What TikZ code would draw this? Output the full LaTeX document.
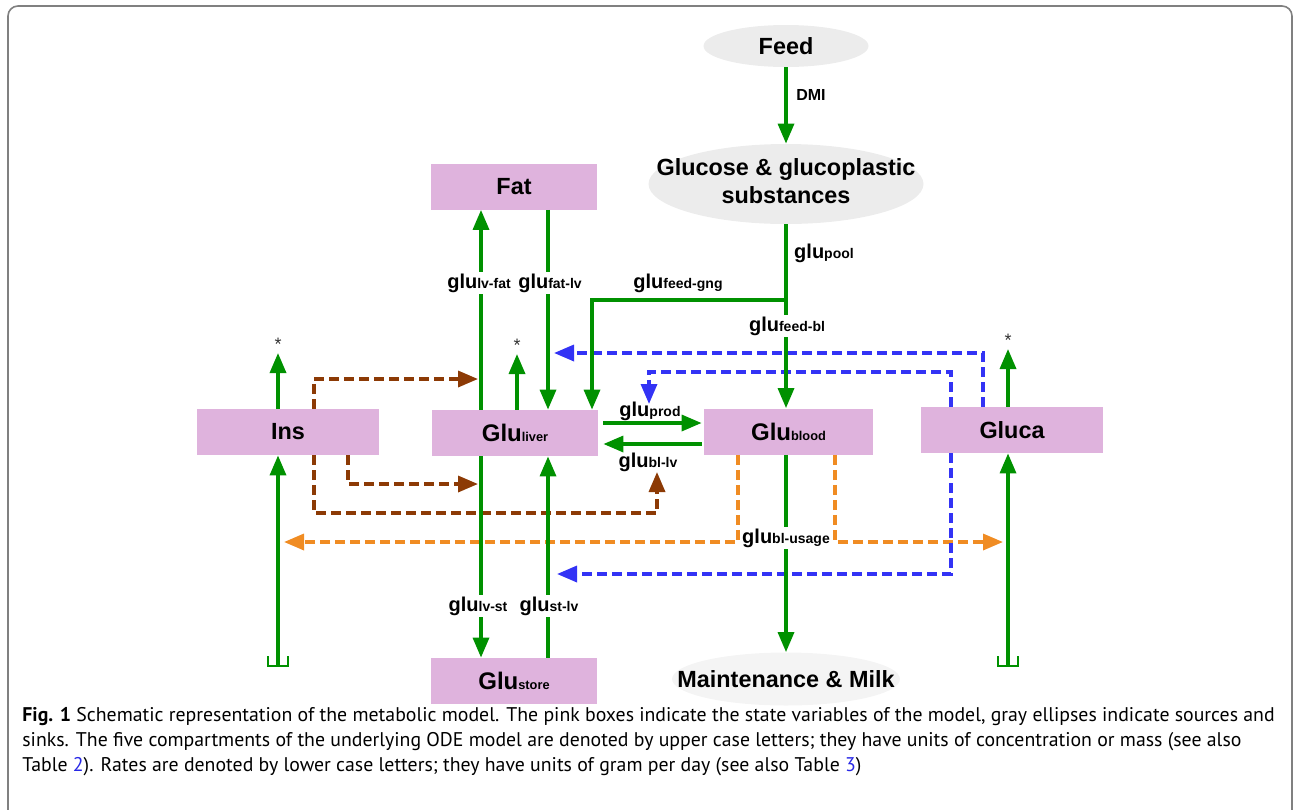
\documentclass[tikz,border=0pt]{standalone}
\usepackage{fontspec}
\setmainfont{Liberation Sans}
\newfontfamily\capfont{PT Sans}
\usetikzlibrary{arrows.meta,shapes.geometric,calc}
\definecolor{boxpink}{RGB}{223,179,221}
\definecolor{flowgreen}{RGB}{0,145,0}
\definecolor{regblue}{RGB}{51,51,245}
\definecolor{regbrown}{RGB}{140,58,5}
\definecolor{regorange}{RGB}{240,140,35}
\definecolor{srcgray}{RGB}{236,236,236}
\definecolor{framegray}{RGB}{128,128,128}
\definecolor{linkblue}{RGB}{40,40,230}
\newcommand{\mainfs}{\fontsize{11.7}{14}\selectfont\bfseries}
\newcommand{\gluX}[1]{{\fontsize{12}{14}\selectfont\bfseries Glu}{\fontsize{6.4}{8}\selectfont\bfseries #1}}
\newcommand{\rateX}[1]{{\fontsize{10}{11}\selectfont\bfseries glu}{\fontsize{7}{8}\selectfont\bfseries #1}}
\begin{document}
\begin{tikzpicture}[x=0.5pt,y=-0.5pt,
  pinkbox/.style={fill=boxpink, draw=none, inner sep=0pt, minimum width=83pt, minimum height=23pt, font=\mainfs},
  source/.style={ellipse, fill=srcgray, inner sep=0pt, font=\mainfs},
  flow/.style={draw=flowgreen, line width=1.7pt, -{Triangle[length=10pt,width=8pt]}},
  gline/.style={draw=flowgreen, line width=1.7pt},
  reg/.style={line width=1.7pt, dash pattern=on 5pt off 2.5pt, -{Triangle[length=10pt,width=8pt]}},
  ratelbl/.style={fill=white, inner sep=1pt},
  star/.style={font=\fontsize{9}{9}\selectfont, text=black!80, inner sep=0pt},
  sink/.style={draw=flowgreen, line width=1.2pt},
  captext/.style={anchor=base west, inner sep=0pt, font=\capfont\fontsize{9.9}{12.5}\selectfont}
]
\useasboundingbox (0,0) rectangle (1294,809);
\draw[framegray, line width=0.8pt, rounded corners=5pt] (8,820) -- (8,6) -- (1292,6) -- (1292,820);

% x positions
\coordinate (x278) at (278,0);
\coordinate (x314) at (314,0);
\coordinate (x348) at (348,0);
\coordinate (x481) at (481,0);
\coordinate (x517) at (517,0);
\coordinate (x548) at (548,0);
\coordinate (x592) at (592,0);
\coordinate (x738) at (738,0);
\coordinate (x786) at (786,0);
\coordinate (x835) at (835,0);
\coordinate (x951) at (951,0);
\coordinate (x983) at (983,0);
\coordinate (x1008) at (1008,0);

% sources / sinks
\node[source, minimum width=82.5pt, minimum height=21pt] (feed) at (786,46) {\makebox[0pt]{Feed}};
\node[source, minimum width=137.5pt, minimum height=40pt] (glucose) at (786,184) {\makebox[0pt]{\begin{tabular}{@{}c@{}}Glucose \& glucoplastic\\substances\end{tabular}}};
\node[source, fill=srcgray!60, minimum width=114pt, minimum height=26.5pt] (maint) at (786,679) {\makebox[0pt]{Maintenance \& Milk}};

% state boxes
\node[pinkbox] (fat) at (514,186.5) {Fat};
\node[pinkbox] (liver) at (515,433) {\gluX{liver}};
\node[pinkbox, minimum width=84.5pt] (blood) at (788.5,431.5) {\gluX{blood}};
\node[pinkbox, minimum width=91pt] (ins) at (288,432) {Ins};
\node[pinkbox, minimum width=91pt] (gluca) at (1012,430) {Gluca};
\node[pinkbox] (store) at (514,681) {\gluX{store}};

% coordinates for free ends
\coordinate (j) at (786,300);
\coordinate (bA) at (478,379);
\coordinate (bB) at (478,484);
\coordinate (bC) at (657,513);
\coordinate (bD) at (657,472);
\coordinate (oA) at (284,542);
\coordinate (oB) at (1003,542);
\coordinate (uA) at (554,353);
\coordinate (uB) at (649,372);
\coordinate (uC) at (649,404);
\coordinate (uD) at (557,574);
\coordinate (sI) at (278,353);
\coordinate (sL) at (517,354);
\coordinate (sG) at (1008,349);
\coordinate (srcI) at (278,666);
\coordinate (srcG) at (1008,666);

% regulation (dashed)
\draw[reg, regbrown] (ins.north -| x314) |- (bA);
\draw[reg, regbrown] (ins.south -| x348) |- (bB);
\draw[reg, regbrown] (ins.south -| x314) |- (bC) -- (bD);
\draw[reg, regorange] (blood.south -| x738) |- (oA);
\draw[reg, regorange] (blood.south -| x835) |- (oB);
\draw[reg, regblue] (gluca.north -| x983) |- (uA);
\draw[reg, regblue] (gluca.north -| x951) |- (uB) -- (uC);
\draw[reg, regblue] (gluca.south -| x951) |- (uD);

% flows
\draw[flow] (feed) -- (glucose);
\draw[gline] (glucose.south) -- (j);
\draw[flow] (j) -- (j |- blood.north);
\draw[flow] (j) -| (liver.north -| x592);
\draw[flow] (liver.north -| x481) -- (fat.south -| x481);
\draw[flow] (fat.south -| x548) -- (liver.north -| x548);
\draw[flow] (liver.south -| x481) -- (store.north -| x481);
\draw[flow] (store.north -| x548) -- (liver.south -| x548);
\draw[flow] (liver.north -| x517) -- (sL);
\draw[flow] (ins.north -| x278) -- (sI);
\draw[flow] (gluca.north -| x1008) -- (sG);
\draw[flow, shorten <=2.5pt, shorten >=1pt] ([yshift=5pt]liver.east) -- ([yshift=5pt]liver.east -| blood.west);
\draw[flow, shorten <=1pt, shorten >=2.5pt] ([yshift=-6.25pt]blood.west) -- ([yshift=-6.25pt]blood.west -| liver.east);
\draw[flow] (blood.south -| x786) -- (maint);
\draw[flow] (srcI) -- (ins.south -| srcI);
\draw[flow] (srcG) -- (gluca.south -| srcG);
\draw[sink] (srcI) ++(-10,-10) -- ++(0,10) -- ++(20,0) -- ++(0,-10);
\draw[sink] (srcG) ++(-10,-10) -- ++(0,10) -- ++(20,0) -- ++(0,-10);

% stars
\node[star] (starI) at (278,344) {*};
\node[star] (starL) at (517,345) {*};
\node[star] (starG) at (1008,340) {*};

% labels
\node (dmi) at (811,95) {\fontsize{8}{9}\selectfont\bfseries DMI};
\node (rpool) at (824,253) {\rateX{pool}};
\node (rgng) at (678,283) {\rateX{feed-gng}};
\node[ratelbl] (rfeedbl) at (787,326) {\rateX{feed-bl}};
\node[ratelbl] (rlvfat) at (479,283) {\rateX{lv-fat}};
\node[ratelbl] (rfatlv) at (550,283) {\rateX{fat-lv}};
\node (rprod) at (650,411) {\rateX{prod}};
\node (rbllv) at (648,462) {\rateX{bl-lv}};
\node[ratelbl] (rusage) at (786,538) {\rateX{bl-usage}};
\node[ratelbl] (rlvst) at (478,606) {\rateX{lv-st}};
\node[ratelbl] (rstlv) at (549,606) {\rateX{st-lv}};

% caption
\node[captext] (cap1) at (22,721) {\textbf{Fig. 1} Schematic representation of the metabolic model. The pink boxes indicate the state variables of the model, gray ellipses indicate sources and};
\node[captext] (cap2) at (22,746) {sinks. The five compartments of the underlying ODE model are denoted by upper case letters; they have units of concentration or mass (see also};
\node[captext] (cap3) at (22,771) {Table \textcolor{linkblue}{2}). Rates are denoted by lower case letters; they have units of gram per day (see also Table \textcolor{linkblue}{3})};
\end{tikzpicture}
\end{document}
